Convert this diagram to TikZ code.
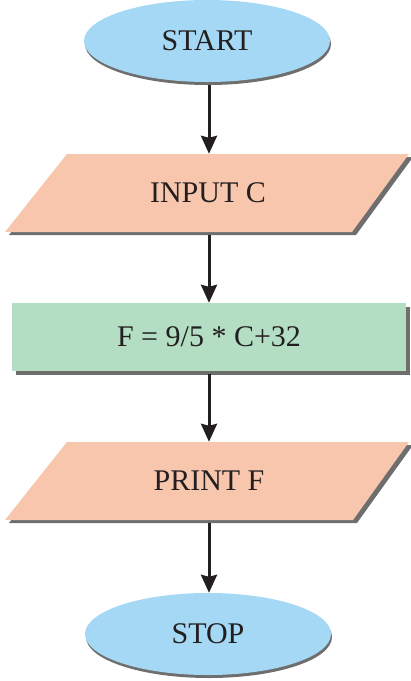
\documentclass[tikz,border=0pt]{standalone}
\usepackage{fontspec}
\setmainfont{Liberation Serif}
\usetikzlibrary{shapes.geometric,shadows,arrows.meta}
\definecolor{termblue}{HTML}{A5D8F4}
\definecolor{iosalmon}{HTML}{F7C6AD}
\definecolor{procgreen}{HTML}{B3DEC4}
\definecolor{shadowgray}{HTML}{6E6E6E}
\definecolor{inkdark}{HTML}{231F20}
\tikzset{
  lbl/.style={font=\fontsize{30}{34}\selectfont, text=inkdark, inner sep=0pt},
  termnode/.style={ellipse, lbl, fill=termblue, minimum width=246pt, minimum height=82pt,
    drop shadow={shadow xshift=1pt, shadow yshift=-3pt, fill=shadowgray, opacity=1}},
  procnode/.style={rectangle, lbl, fill=procgreen, minimum width=394pt, minimum height=68pt,
    drop shadow={shadow xshift=4pt, shadow yshift=-4pt, fill=shadowgray, opacity=1}},
  ionode/.style={rectangle, lbl, minimum width=200pt},
  flow/.style={draw=inkdark, line width=3pt, -{Stealth[length=18pt, width=16pt, inset=2pt]}},
}
\begin{document}
\begin{tikzpicture}[x=1pt, y=-1pt]
\useasboundingbox (0,0) rectangle (411,681);
% START
\node[termnode] (start) at (207,41) {START};
% INPUT C parallelogram
\fill[shadowgray] (71,157) -- (413,157) -- (356,235) -- (9,235) -- cycle;
\fill[iosalmon] (67,154) -- (409,154) -- (352,232) -- (5,232) -- cycle;
\node[ionode, minimum height=78pt] (in) at (208,193) {INPUT C};
% Process
\node[procnode] (proc) at (209,337) {F = 9/5 * C+32};
% PRINT F parallelogram
\fill[shadowgray] (71,445) -- (413,445) -- (357,523) -- (9,523) -- cycle;
\fill[iosalmon] (67,442) -- (409,442) -- (353,520) -- (5,520) -- cycle;
\node[ionode, minimum height=78pt] (out) at (209,481) {PRINT F};
% STOP
\node[termnode] (stop) at (208,634) {STOP};
% connectors
\coordinate (a1) at (209,85);
\coordinate (a2) at (209,235);
\coordinate (a3) at (209,374);
\coordinate (a4) at (209,523);
\draw[flow] (a1) -- (in.north -| a1);
\draw[flow] (a2) -- (proc.north -| a2);
\draw[flow] (a3) -- (out.north -| a3);
\draw[flow] (a4) -- (stop.north -| a4);
\end{tikzpicture}
\end{document}
